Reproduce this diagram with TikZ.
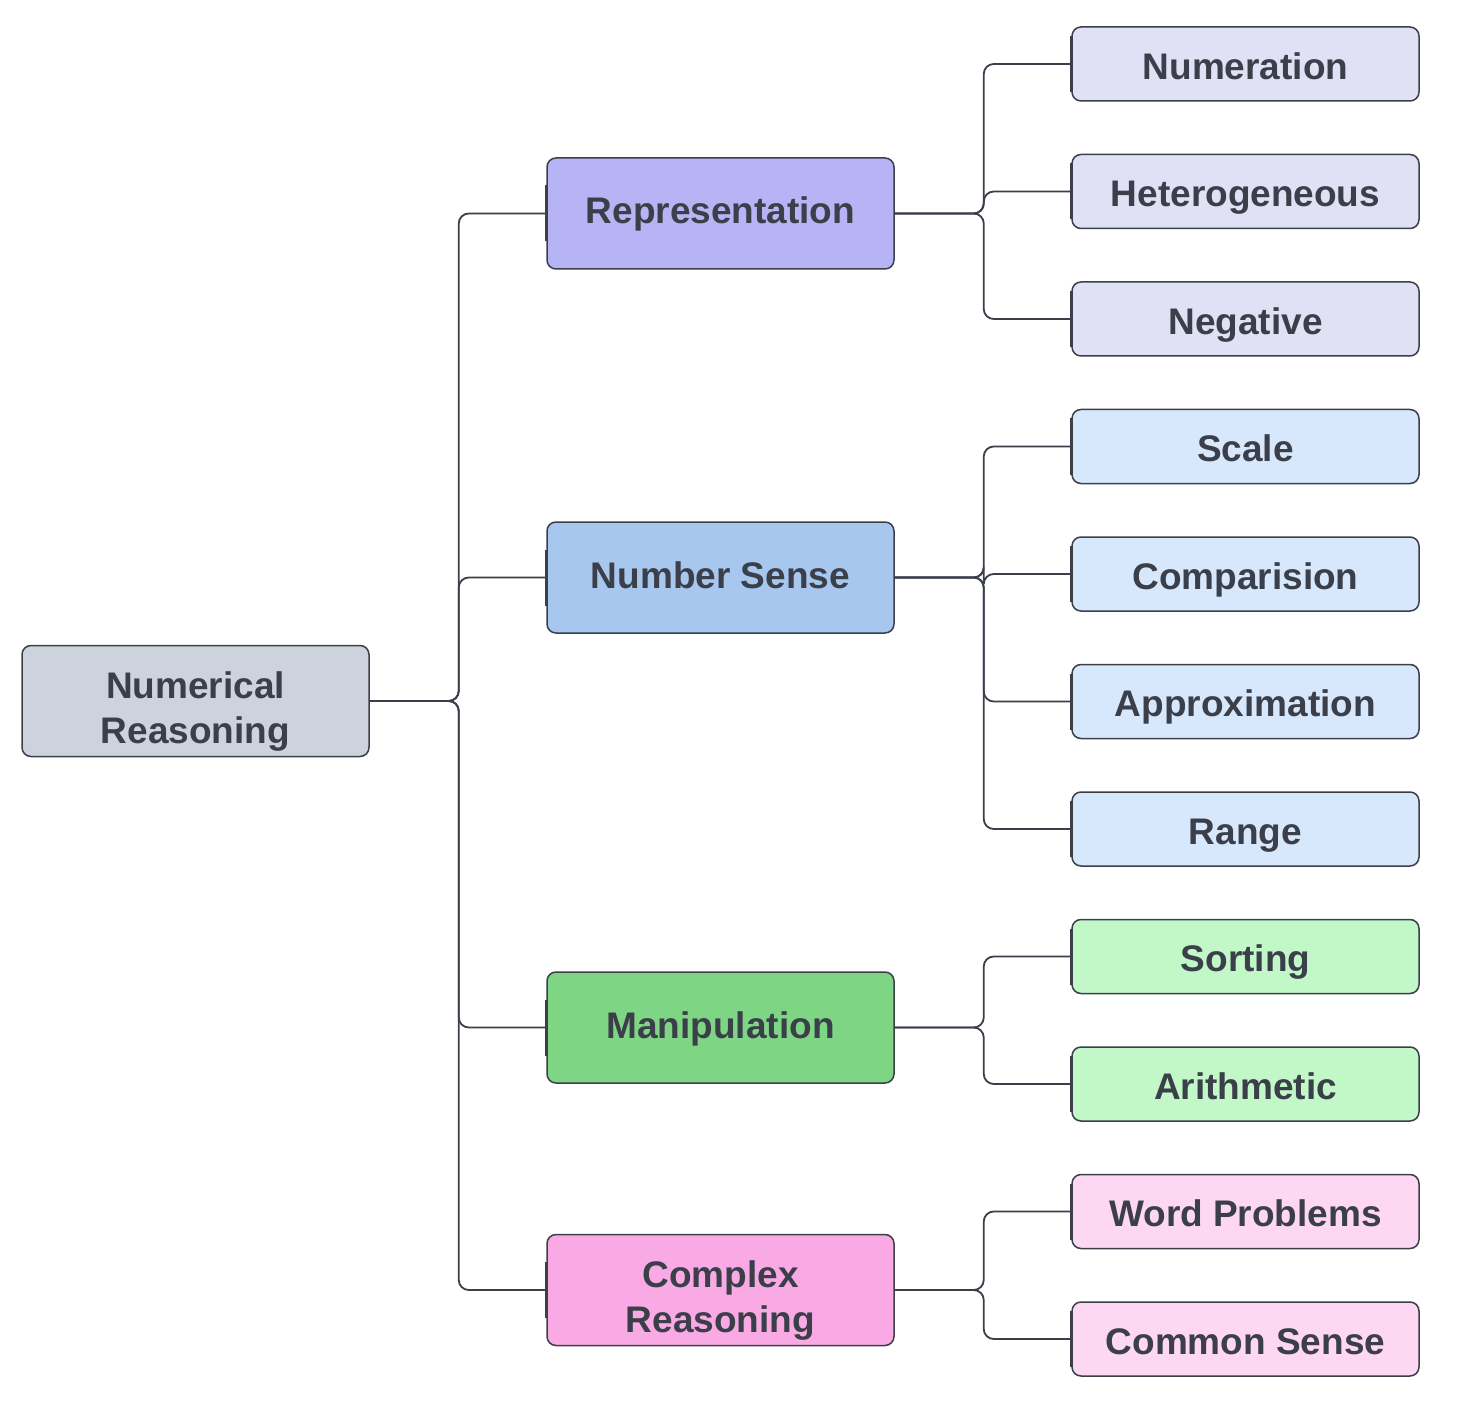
\documentclass[tikz,border=0pt]{standalone}
\usepackage{fontspec}
\setmainfont{Liberation Sans}
\usepackage{xcolor}
\usetikzlibrary{positioning}
\definecolor{ink}{HTML}{3A3F4A}
\definecolor{rootfill}{HTML}{CDD3DC}
\definecolor{repfill}{HTML}{B6B4F4}
\definecolor{nsfill}{HTML}{A8C7EE}
\definecolor{manfill}{HTML}{7ED584}
\definecolor{crfill}{HTML}{F9A9E3}
\definecolor{repsub}{HTML}{E1E1F6}
\definecolor{nssub}{HTML}{D8E8FC}
\definecolor{mansub}{HTML}{C2F7C7}
\definecolor{crsub}{HTML}{FED7F3}
\tikzset{
    box/.style={rectangle, rounded corners=9pt, draw=ink, line width=1.5pt, text=ink, inner sep=0pt, minimum width=347pt, align=center, font=\bfseries\fontsize{37}{45}\selectfont},
    topic/.style={box, minimum height=111pt, text height=30pt, text depth=9pt},
    twoline/.style={box, minimum height=111pt, text height=93.5pt, text depth=9pt},
    leaf/.style={box, minimum height=74pt, text height=34pt, text depth=3.5pt},
    link/.style={draw=ink, line width=1.8pt, rounded corners=10pt},
    stub/.style={draw=ink, line width=3.5pt},
}
\begin{document}
\begin{tikzpicture}[x=1pt, y=-1pt]
        \useasboundingbox (0,0) rectangle (1457,1404);
        \node [twoline, fill=rootfill] (root) at (195.5,701) {Numerical\\Reasoning};
        \node [topic, fill=repfill] (rep) at (720.5,213.5) {Representation};
        \node [topic, fill=nsfill] (ns) at (720.5,577.5) {Number Sense};
        \node [topic, fill=manfill] (man) at (720.5,1027.5) {Manipulation};
        \node [twoline, fill=crfill] (cr) at (720.5,1290) {Complex\\Reasoning};
        \node [leaf, fill=repsub] (numer) at (1245.5,64) {Numeration};
        \node [leaf, fill=repsub] (hetero) at (1245.5,191.5) {Heterogeneous};
        \node [leaf, fill=repsub] (neg) at (1245.5,319) {Negative};
        \node [leaf, fill=nssub] (scale) at (1245.5,446.5) {Scale};
        \node [leaf, fill=nssub] (comp) at (1245.5,574) {Comparision};
        \node [leaf, fill=nssub] (approx) at (1245.5,701.5) {Approximation};
        \node [leaf, fill=nssub] (range) at (1245.5,829) {Range};
        \node [leaf, fill=mansub] (sort) at (1245.5,956.5) {Sorting};
        \node [leaf, fill=mansub] (arith) at (1245.5,1084) {Arithmetic};
        \node [leaf, fill=crsub] (word) at (1245.5,1211.5) {Word Problems};
        \node [leaf, fill=crsub] (common) at (1245.5,1339) {Common Sense};
        \foreach \kid in {rep, ns, man, cr}
            \draw [link] (root.east) -- ++(89,0) |- (\kid.west);
        \foreach \kid in {numer, hetero, neg}
            \draw [link] (rep.east) -- ++(89,0) |- (\kid.west);
        \foreach \kid in {scale, comp, approx, range}
            \draw [link] (ns.east) -- ++(89,0) |- (\kid.west);
        \foreach \kid in {sort, arith}
            \draw [link] (man.east) -- ++(89,0) |- (\kid.west);
        \foreach \kid in {word, common}
            \draw [link] (cr.east) -- ++(89,0) |- (\kid.west);
        \foreach \kid in {rep, ns, man, cr, numer, hetero, neg, scale, comp, approx, range, sort, arith, word, common}
            \draw [stub] ([yshift=28pt]\kid.west) -- ([yshift=-28pt]\kid.west);
    \end{tikzpicture}
\end{document}
